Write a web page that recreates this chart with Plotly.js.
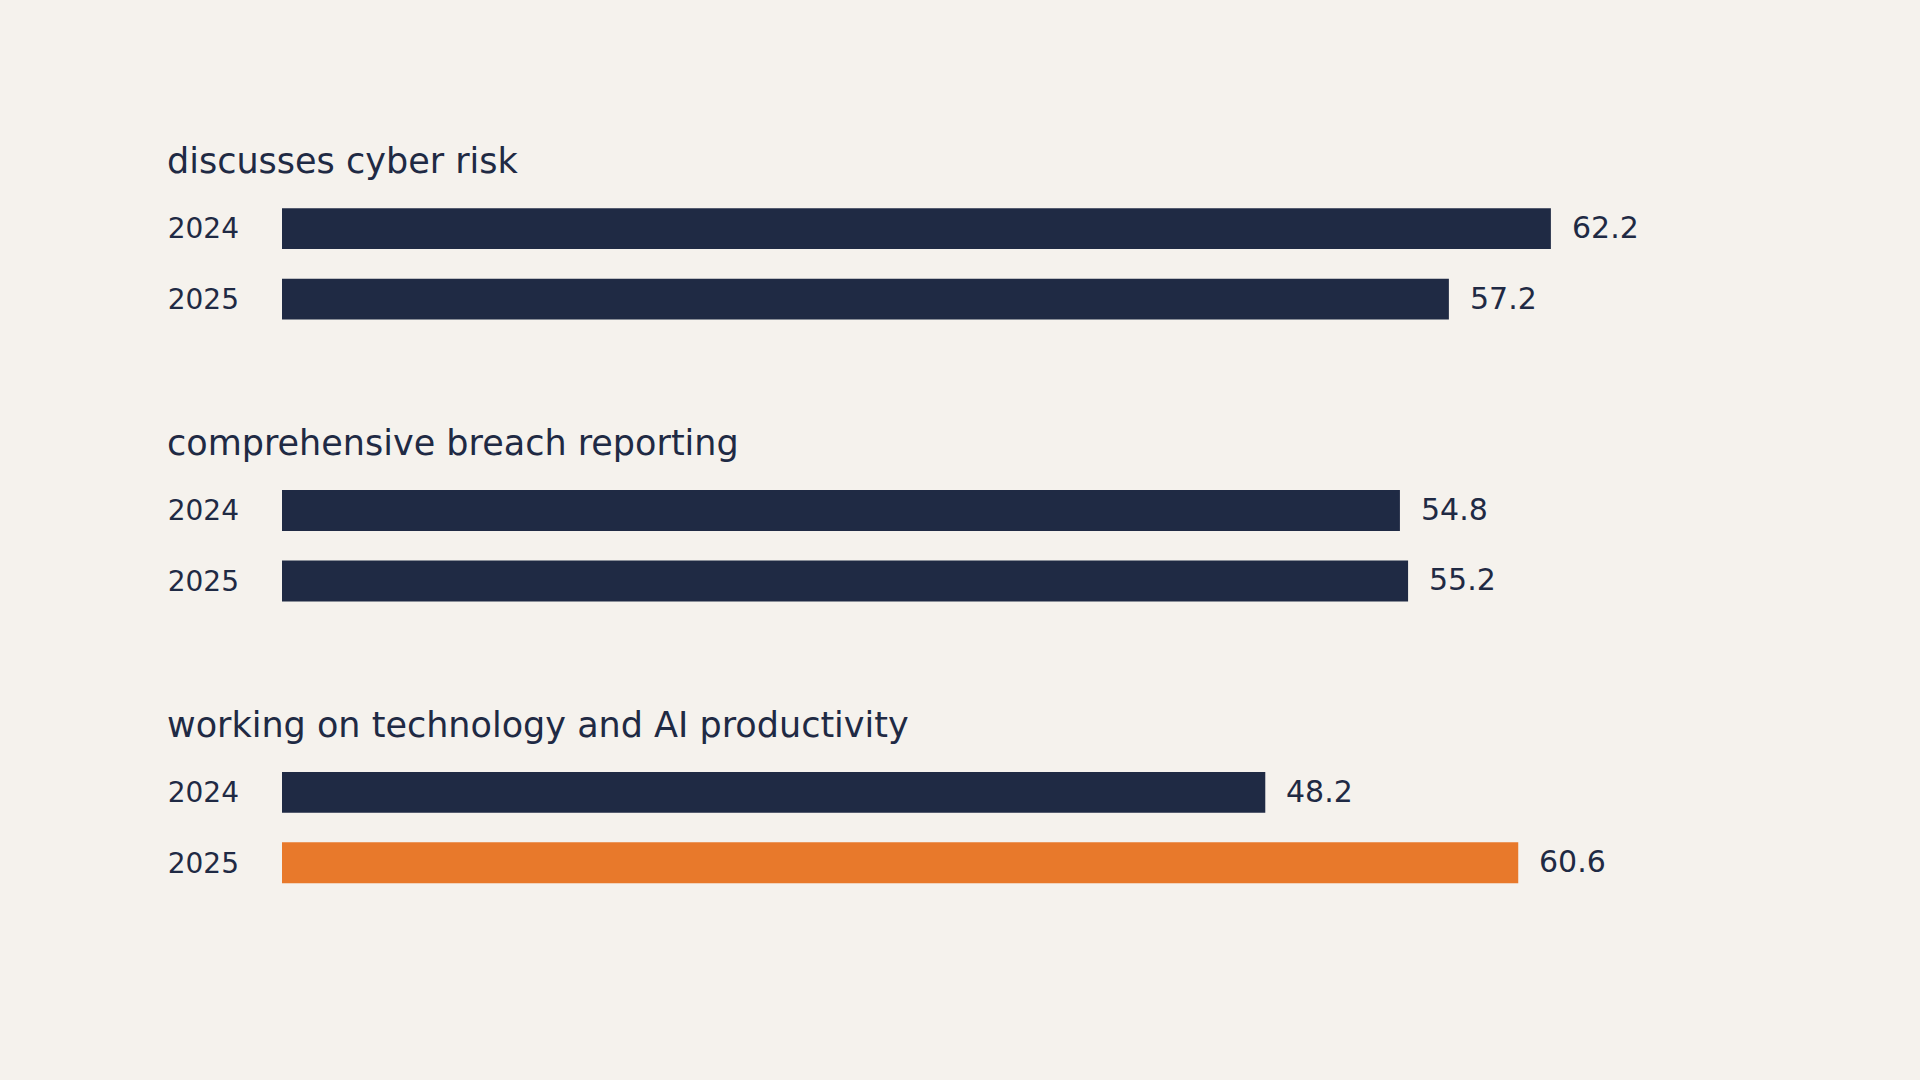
<!DOCTYPE html>
<html>
<head>
<meta charset="utf-8">
<script src="https://cdn.plot.ly/plotly-3.0.1.min.js"></script>
<style>
  html, body { margin: 0; padding: 0; background: #f5f2ed; }
  #chart { width: 1920px; height: 1080px; }
</style>
</head>
<body>
<div id="chart"></div>
<script>
// data
var groups = ['discusses cyber risk', 'comprehensive breach reporting', 'working on technology and AI productivity'];
var years = ['2024', '2025'];
var values2024 = [62.2, 54.8, 48.2];
var values2025 = [57.2, 55.2, 60.6];
var highlightGroup = 2;   // the 2025 bar of this group is orange

var navy = '#1f2a44';
var orange = '#e8792b';
var bg = '#f5f2ed';

// one row for the group title, one per year, one blank row between groups
var ys = [], xs = [], colors = [], tickvals = [], ticktext = [];
var annotations = [];
var row = 0;
groups.forEach(function (g, i) {
    annotations.push({
        xref: 'paper', yref: 'y', x: 0, y: row, xshift: -117, yshift: -3,
        xanchor: 'left', yanchor: 'middle', showarrow: false,
        text: g, font: {size: 35, color: navy}
    });
    row++;
    [values2024[i], values2025[i]].forEach(function (v, j) {
        ys.push(row);
        xs.push(v);
        colors.push(i === highlightGroup && j === 1 ? orange : navy);
        tickvals.push(row);
        ticktext.push(years[j]);
        annotations.push({
            xref: 'x', yref: 'y', x: v, y: row, xshift: 19, yshift: 1,
            xanchor: 'left', yanchor: 'middle', showarrow: false,
            text: v.toFixed(1), font: {size: 30, color: navy}
        });
        row++;
    });
    if (i < groups.length - 1) row++;
});

var trace = {
    type: 'bar', orientation: 'h',
    x: xs, y: ys,
    marker: {color: colors, line: {width: 0}},
    hoverinfo: 'x'
};

var layout = {
    width: 1920, height: 1080,
    paper_bgcolor: bg, plot_bgcolor: bg,
    font: {family: 'DejaVu Sans, sans-serif', color: navy},
    margin: {l: 282, r: 6, t: 123, b: 182},
    bargap: 0.42,
    showlegend: false,
    xaxis: {range: [0, 80], showgrid: false, zeroline: false, showticklabels: false, showline: false},
    yaxis: {
        range: [row - 0.5, -0.5],
        tickmode: 'array', tickvals: tickvals, ticktext: ticktext,
        tickfont: {size: 28, color: navy},
        ticks: '', ticklabelstandoff: 42,
        showgrid: false, zeroline: false, showline: false
    },
    annotations: annotations
};

Plotly.newPlot('chart', [trace], layout, {displayModeBar: false, staticPlot: true});
</script>
</body>
</html>
